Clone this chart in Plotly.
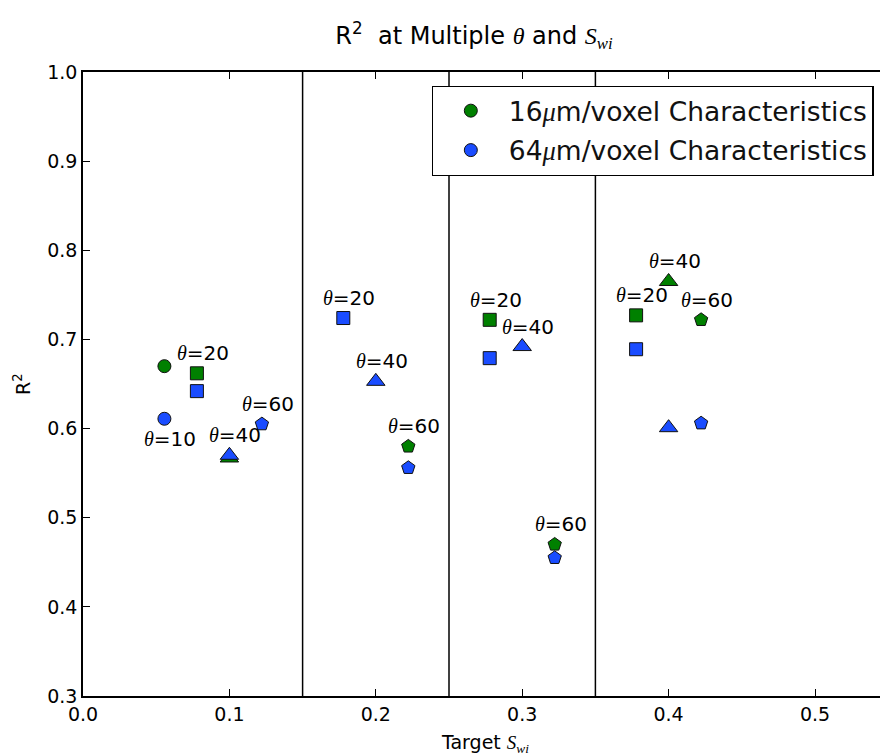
import plotly.graph_objects as go

# Target water saturation for each experiment block
targets = [0.1, 0.2, 0.3, 0.4]

# Contact angles tested and their horizontal offset within each block
thetas = [10, 20, 40, 60]
theta_offsets = {10: -0.0444, 20: -0.0222, 40: 0.0, 60: 0.0222}
theta_symbols = {10: "circle", 20: "square", 40: "triangle-up", 60: "pentagon"}
theta_sizes = {10: 13, 20: 13, 40: 16, 60: 14}

# R^2 per contact angle, one value per target block (None = not run)
r2_16um = {
    10: [0.670, None, None, None],
    20: [0.662, None, 0.722, 0.727],
    40: [0.567, None, None, 0.765],
    60: [None, 0.580, 0.470, 0.722],
}
r2_64um = {
    10: [0.611, None, None, None],
    20: [0.642, 0.724, 0.679, 0.689],
    40: [0.570, 0.653, 0.692, 0.601],
    60: [0.605, 0.556, 0.455, 0.606],
}

# Labels drawn under the points instead of over them
labels_below = {(10, 0.1)}

# Block separators
separators = [0.15, 0.25, 0.35]

GREEN = "#008000"
BLUE = "#1a4cff"
SERIF = "font-family:Liberation Serif"
TH = f"<span style='{SERIF}'><i>θ</i></span>"
SWI = f"<span style='{SERIF}'><i>S<sub>wi</sub></i></span>"

fig = go.Figure()

series = [("16", r2_16um, GREEN), ("64", r2_64um, BLUE)]
for name, table, color in series:
    for th in thetas:
        xs = [t + theta_offsets[th] for t in targets]
        fig.add_trace(go.Scatter(
            x=xs, y=table[th], mode="markers", showlegend=False,
            marker=dict(symbol=theta_symbols[th], size=theta_sizes[th], color=color,
                        line=dict(color="#111111", width=1)),
        ))

# Legend entries (circle markers)
for i, (name, table, color) in enumerate(series):
    fig.add_trace(go.Scatter(
        x=[None], y=[None], mode="markers",
        name=f"{name}<span style='{SERIF}'><i>μ</i></span>m/voxel Characteristics",
        legendgroup=f"g{i}",
        marker=dict(symbol="circle", size=13, color=color,
                    line=dict(color="#111111", width=1)),
    ))

# θ labels next to each point pair
for th in thetas:
    for k, t in enumerate(targets):
        vals = [v for v in (r2_16um[th][k], r2_64um[th][k]) if v is not None]
        if not vals:
            continue
        below = (th, t) in labels_below
        fig.add_annotation(
            x=t + theta_offsets[th], y=min(vals) if below else max(vals),
            text=f"{TH}={th}", showarrow=False, xshift=6,
            yshift=-20 if below else 20,
            font=dict(size=20, color="black"),
        )

for s in separators:
    fig.add_shape(type="line", x0=s, x1=s, y0=0.3, y1=1.0, xref="x", yref="y",
                  line=dict(color="black", width=1.5))

# Axis titles
fig.add_annotation(text="R<sup>2</sup>", xref="paper", yref="paper", x=0, y=0.5,
                   xshift=-61, textangle=-90, showarrow=False,
                   xanchor="center", yanchor="middle",
                   font=dict(size=19, color="black"))
fig.add_annotation(text=f"Target {SWI}", xref="paper", yref="paper", x=0.504, y=0,
                   yshift=-47, showarrow=False, xanchor="center", yanchor="middle",
                   font=dict(size=19, color="black"))

fig.update_layout(
    width=880, height=756, autosize=False,
    margin=dict(l=83, r=0, t=72, b=60),
    paper_bgcolor="white", plot_bgcolor="white",
    font=dict(family="DejaVu Sans", color="black"),
    title=dict(text=f"R<sup>2</sup>  at Multiple {TH} and {SWI}",
               xref="paper", x=0.4906, xanchor="center",
               yref="container", y=1 - 36 / 756, yanchor="middle",
               font=dict(size=24, color="black")),
    legend=dict(x=0.992, xanchor="right", y=0.978, yanchor="top",
                bgcolor="white", bordercolor="black", borderwidth=1.2,
                font=dict(size=26.5, color="#111111"), tracegroupgap=2,
                itemwidth=66),
    showlegend=True,
)

fig.update_xaxes(range=[0, 0.5444], tickvals=[0, 0.1, 0.2, 0.3, 0.4, 0.5],
                 tickformat=".1f", ticks="inside", ticklen=7, tickcolor="black",
                 showline=True, linecolor="black", linewidth=1.5, mirror="ticks",
                 showgrid=False, zeroline=False, tickfont=dict(size=19))
fig.update_yaxes(range=[0.3, 1.0], dtick=0.1, tickformat=".1f", ticks="inside",
                 ticklen=7, tickcolor="black", showline=True, linecolor="black",
                 linewidth=1.5, showgrid=False, zeroline=False,
                 tickfont=dict(size=19))

fig.write_html("out.html")
